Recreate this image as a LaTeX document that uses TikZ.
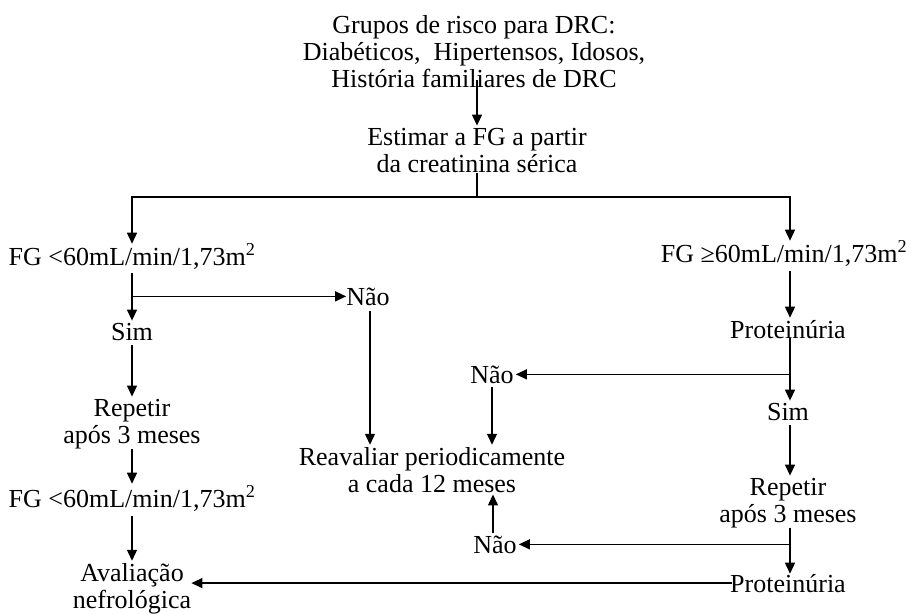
\documentclass[tikz,border=0pt]{standalone}
\usepackage{fontspec}
\setmainfont{Liberation Serif}
\usetikzlibrary{arrows.meta,calc}
\begin{document}
\begin{tikzpicture}[x=1pt,y=-1pt,
  lbl/.style={inner sep=0pt, font=\fontsize{26}{27}\selectfont, align=center, anchor=base},
  arr/.style={-{Triangle[length=11pt,width=10pt]}, line width=1.3pt},
  ln/.style={line width=1.3pt}]
\useasboundingbox (0,0) rectangle (911,615);
% nodes (multi-line nodes are placed by the baseline of their last line)
\node[lbl] (grp) at (474,88) {Grupos de risco para DRC:\\Diabéticos,\ \ Hipertensos, Idosos,\\História familiares de DRC};
\node[lbl] (est) at (477,173) {Estimar a FG a partir\\da creatinina sérica};
\node[lbl] (fg1) at (132,265) {FG <60mL/min/1,73m\textsuperscript{2}};
\node[lbl] (fg2) at (784,262) {FG ≥60mL/min/1,73m\textsuperscript{2}};
\node[lbl] (sim1) at (132,340) {Sim};
\node[lbl] (nao1) at (368,305) {Não};
\node[lbl] (rep1) at (132,443) {Repetir\\após 3 meses};
\node[lbl] (fg3) at (132,507) {FG <60mL/min/1,73m\textsuperscript{2}};
\node[lbl] (aval) at (132,608) {Avaliação\\nefrológica};
\node[lbl] (reav) at (432,492) {Reavaliar periodicamente\\a cada 12 meses};
\node[lbl] (prot1) at (788,338) {Proteinúria};
\node[lbl] (nao2) at (492,383) {Não};
\node[lbl] (sim2) at (788,420) {Sim};
\node[lbl] (rep2) at (788,522) {Repetir\\após 3 meses};
\node[lbl] (nao3) at (495,553) {Não};
\node[lbl] (prot2) at (788,592) {Proteinúria};
\coordinate (split) at (477,197);
% connectors
\draw[arr, shorten <=-8pt, shorten >=3pt] (grp.south -| est.north) -- (est.north);
\draw[ln] (est.south) -- (split);
\draw[arr] (split) -| (fg1.north);
\draw[arr] (split) -| ([xshift=6pt]fg2.north);
\draw[arr, shorten <=4pt, shorten >=2pt] (fg1.south) -- (sim1.north);
\draw[arr] (fg1.south |- nao1.west) -- (nao1.west);
\draw[arr, shorten <=6pt, shorten >=2pt] ([xshift=2pt]nao1.south) -- ([xshift=2pt]nao1.south |- reav.north);
\draw[arr, shorten <=5pt, shorten >=2pt] (sim1.south) -- (rep1.north);
\draw[arr, shorten >=2pt] (rep1.south) -- (fg3.north);
\draw[arr, shorten <=5pt, shorten >=2pt] (fg3.south) -- (aval.north);
\draw[arr, shorten <=5pt, shorten >=2pt] ([xshift=6pt]fg2.south) -- ([xshift=2pt]prot1.north);
\draw[arr, shorten >=2pt] ([xshift=2pt]prot1.south) -- ([xshift=2pt]sim2.north);
\draw[arr] ([xshift=2pt]prot1.south |- nao2.east) -- ([xshift=2pt]nao2.east);
\draw[arr, shorten <=4pt, shorten >=2pt] (nao2.south) -- (nao2.south |- reav.north);
\draw[arr, shorten <=5pt, shorten >=2pt] ([xshift=2pt]sim2.south) -- ([xshift=2pt]rep2.north);
\draw[arr] ([xshift=2pt]rep2.south) -- ([xshift=2pt]prot2.north);
\draw[arr] ([xshift=2pt]rep2.south |- nao3.east) -- ([xshift=2pt]nao3.east);
\draw[arr, shorten <=2pt, shorten >=2pt] ([xshift=-2pt]nao3.north) -- ([xshift=-2pt]nao3.north |- reav.south);
\draw[arr] ([xshift=2pt]prot2.west) -- (prot2.west -| aval.east);
\end{tikzpicture}
\end{document}
